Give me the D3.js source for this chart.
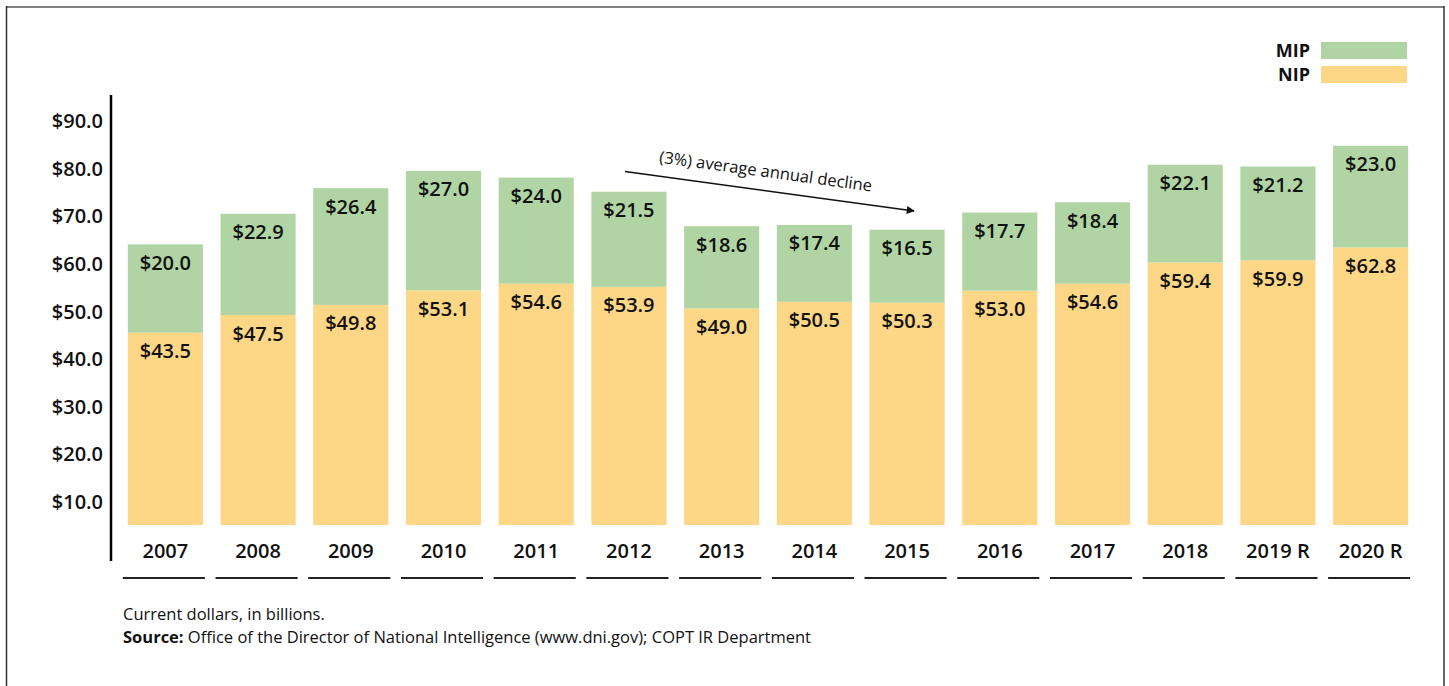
<!DOCTYPE html>
<html>
<head>
<meta charset="utf-8">
<script src="https://cdn.jsdelivr.net/npm/d3@7"></script>
<style>
  body { margin: 0; background: #fff; }
  text { font-family: "Open Sans", "Lato", sans-serif; fill: #111; }
</style>
</head>
<body>
<div id="chart"></div>
<script>
const YEARS = ["2007", "2008", "2009", "2010", "2011", "2012", "2013", "2014", "2015", "2016", "2017", "2018", "2019 R", "2020 R"];
const NIP = [43.5, 47.5, 49.8, 53.1, 54.6, 53.9, 49.0, 50.5, 50.3, 53.0, 54.6, 59.4, 59.9, 62.8];
const MIP = [20.0, 22.9, 26.4, 27.0, 24.0, 21.5, 18.6, 17.4, 16.5, 17.7, 18.4, 22.1, 21.2, 23.0];
const TICKS = [10, 20, 30, 40, 50, 60, 70, 80, 90];
const SERIES = ["NIP", "MIP"];
const COLORS = { NIP: "#fdd686", MIP: "#b0d4a3" };

const W = 1449, H = 686;

const svg = d3.select("#chart")
  .append("svg")
  .attr("width", W)
  .attr("height", H);

// frame
svg.append("line").attr("x1", 6).attr("x2", 1444).attr("y1", 7).attr("y2", 7)
  .attr("stroke", "#808080").attr("stroke-width", 2);
svg.append("line").attr("x1", 6.5).attr("x2", 6.5).attr("y1", 6).attr("y2", H)
  .attr("stroke", "#333").attr("stroke-width", 1.5);
svg.append("line").attr("x1", 1444).attr("x2", 1444).attr("y1", 6).attr("y2", H)
  .attr("stroke", "#333").attr("stroke-width", 1.5);

const rows = YEARS.map((year, i) => ({ year, NIP: NIP[i], MIP: MIP[i] }));
const stacked = d3.stack().keys(SERIES)(rows);

/* -------------------- SCALES -------------------- */
const x = d3.scaleBand()
  .domain(YEARS)
  .range([119, 1417])
  .paddingInner(0.19)
  .paddingOuter(0.095);

// bars are drawn on their own scale (as in the source chart)
const yBar = d3.scaleLinear().domain([0, 100]).range([525, 83]);
// axis labels sit on a separate scale
const yAxis = d3.scaleLinear().domain([0, 100]).range([549.6, 73.6]);

const labelFont = "20px";

/* -------------------- Y AXIS -------------------- */
svg.append("line")
  .attr("x1", 111).attr("x2", 111).attr("y1", 95).attr("y2", 561)
  .attr("stroke", "#000").attr("stroke-width", 2.5);

svg.append("g")
  .attr("transform", "translate(103,0)")
  .call(d3.axisLeft(yAxis).tickValues(TICKS).tickSize(0).tickPadding(0)
    .tickFormat(d => "$" + d3.format(".1f")(d)))
  .call(g => g.select(".domain").remove())
  .selectAll("text")
  .style("font-family", "'Open Sans', sans-serif")
  .style("font-size", labelFont)
  .style("font-weight", 600)
  .attr("fill", "#111");

/* -------------------- BARS -------------------- */
const layer = svg.selectAll("g.layer")
  .data(stacked)
  .join("g")
  .attr("class", "layer")
  .attr("fill", d => COLORS[d.key]);

layer.selectAll("rect")
  .data(d => d)
  .join("rect")
  .attr("x", d => x(d.data.year))
  .attr("y", d => yBar(d[1]))
  .attr("width", x.bandwidth())
  .attr("height", d => yBar(d[0]) - yBar(d[1]));

layer.selectAll("text")
  .data(d => d)
  .join("text")
  .attr("x", d => x(d.data.year) + x.bandwidth() / 2)
  .attr("y", d => yBar(d[1]) + 18.5)
  .attr("dy", "0.35em")
  .attr("text-anchor", "middle")
  .style("font-size", labelFont)
  .style("font-weight", 600)
  .text(d => "$" + d3.format(".1f")(d[1] - d[0]));

/* -------------------- X LABELS -------------------- */
const xg = svg.append("g");
xg.selectAll("text")
  .data(YEARS)
  .join("text")
  .attr("x", d => x(d) + x.bandwidth() / 2)
  .attr("y", 551)
  .attr("dy", "0.35em")
  .attr("text-anchor", "middle")
  .style("font-size", labelFont)
  .style("font-weight", 600)
  .text(d => d);

xg.selectAll("line")
  .data(YEARS)
  .join("line")
  .attr("x1", d => x(d) - 5)
  .attr("x2", d => x(d) + x.bandwidth() + 2)
  .attr("y1", 578)
  .attr("y2", 578)
  .attr("stroke", "#222")
  .attr("stroke-width", 2);

/* -------------------- ANNOTATION -------------------- */
const defs = svg.append("defs");
defs.append("marker")
  .attr("id", "arrow")
  .attr("viewBox", "0 0 10 10")
  .attr("refX", 9).attr("refY", 5)
  .attr("markerWidth", 9).attr("markerHeight", 8)
  .attr("markerUnits", "userSpaceOnUse")
  .attr("orient", "auto")
  .append("path")
  .attr("d", "M0,0 L10,5 L0,10 Z")
  .attr("fill", "#111");

const a0 = [625, 171.5], a1 = [914, 211];
svg.append("line")
  .attr("x1", a0[0]).attr("y1", a0[1])
  .attr("x2", a1[0]).attr("y2", a1[1])
  .attr("stroke", "#111").attr("stroke-width", 1.5)
  .attr("marker-end", "url(#arrow)");

const angle = Math.atan2(a1[1] - a0[1], a1[0] - a0[0]) * 180 / Math.PI;
svg.append("text")
  .attr("transform", `translate(765,177) rotate(${angle})`)
  .attr("text-anchor", "middle")
  .style("font-size", "16.5px")
  .style("font-weight", 500)
  .text("(3%) average annual decline");

/* -------------------- LEGEND -------------------- */
const legendItems = ["MIP", "NIP"];
const legend = svg.append("g");
legend.selectAll("rect")
  .data(legendItems)
  .join("rect")
  .attr("x", 1321)
  .attr("y", (d, i) => 42 + i * 24)
  .attr("width", 86)
  .attr("height", 17)
  .attr("fill", d => COLORS[d]);
legend.selectAll("text")
  .data(legendItems)
  .join("text")
  .attr("x", 1310)
  .attr("y", (d, i) => 51 + i * 24)
  .attr("dy", "0.35em")
  .attr("text-anchor", "end")
  .style("font-size", "18px")
  .style("font-weight", 700)
  .text(d => d);

/* -------------------- FOOTER -------------------- */
svg.append("text")
  .attr("x", 123).attr("y", 614)
  .attr("dy", "0.35em")
  .style("font-size", "16.5px")
  .text("Current dollars, in billions.");

const src = svg.append("text")
  .attr("x", 123).attr("y", 637)
  .attr("dy", "0.35em")
  .style("font-size", "16.5px");
src.append("tspan").style("font-weight", 700).text("Source:");
src.append("tspan").text(" Office of the Director of National Intelligence (www.dni.gov); COPT IR Department");
</script>
</body>
</html>
